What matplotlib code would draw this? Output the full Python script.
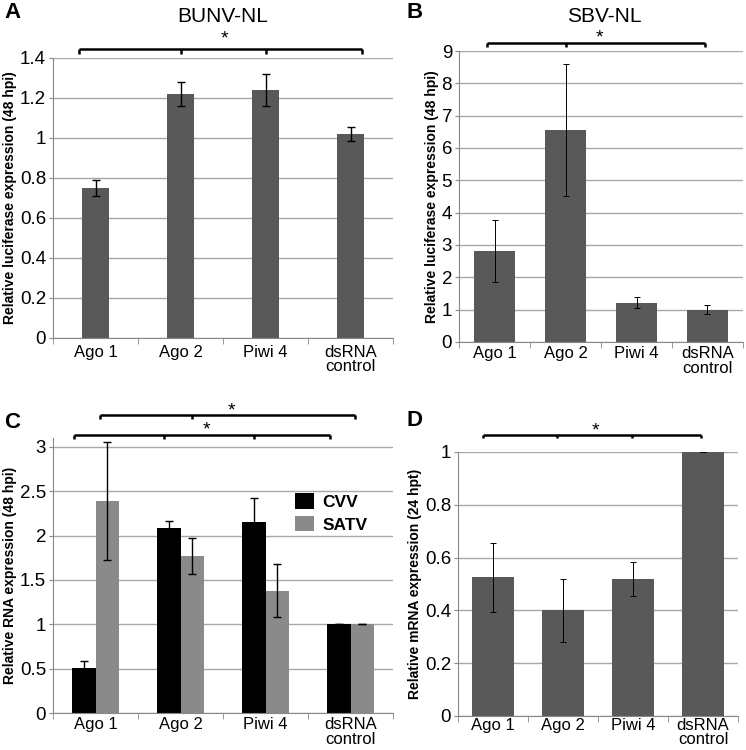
import numpy as np
import matplotlib
matplotlib.use("Agg")
import matplotlib.pyplot as plt

plt.rcParams['font.family'] = ['Liberation Sans', 'DejaVu Sans']

categories = ['Ago 1', 'Ago 2', 'Piwi 4', 'dsRNA\ncontrol']

# A: BUNV-NL
bunv = [0.75, 1.22, 1.24, 1.02]
bunv_err = [0.04, 0.06, 0.08, 0.035]
# B: SBV-NL
sbv = [2.82, 6.55, 1.22, 1.0]
sbv_err = [0.95, 2.05, 0.18, 0.13]
# C: CVV / SATV RNA
cvv = [0.51, 2.09, 2.15, 1.0]
cvv_err = [0.08, 0.07, 0.27, 0.0]
satv = [2.39, 1.77, 1.38, 1.0]
satv_err = [0.66, 0.2, 0.3, 0.0]
# D: mRNA
mrna = [0.525, 0.40, 0.52, 1.0]
mrna_err = [0.13, 0.118, 0.065, 0.0]

W, H = 746, 750
fig = plt.figure(figsize=(W / 100, H / 100), dpi=100)


def px_axes(l, r, b, t):
    return fig.add_axes([l / W, 1 - b / H, (r - l) / W, (b - t) / H])


def style(ax, ylim, yticks, ytlabels, ylabel, xpad):
    x = np.arange(len(categories))
    ax.set_xlim(-0.5, 3.5)
    ax.set_ylim(*ylim)
    ax.set_yticks(yticks)
    ax.set_yticklabels(ytlabels, fontsize=13.5)
    ax.set_xticks(x)
    ax.set_xticklabels(categories, fontsize=12, linespacing=0.95)
    ax.set_xticks(np.arange(-0.5, 4, 1), minor=True)
    ax.tick_params(axis='x', which='major', length=0, pad=xpad)
    ax.tick_params(axis='x', which='minor', length=4, color='#888888')
    ax.tick_params(axis='y', length=3, color='#888888', pad=2)
    ax.grid(axis='y', color='#a8a8a8', lw=1)
    ax.set_axisbelow(True)
    for s in ['top', 'right']:
        ax.spines[s].set_visible(False)
    for s in ['left', 'bottom']:
        ax.spines[s].set_color('#888888')
    ax.set_ylabel(ylabel, fontsize=10, fontweight='bold', labelpad=2)


def bracket(ax, x0, x1, mids, y, h, star_y):
    kw = dict(color='black', lw=1.8, clip_on=False, solid_capstyle='butt')
    ax.plot([x0, x1], [y, y], **kw)
    for xx in [x0, x1] + mids:
        ax.plot([xx, xx], [y, y - h], **kw)
    ax.text((x0 + x1) / 2 + 0.05, star_y, '*', ha='center', va='center', fontsize=14)


x = np.arange(len(categories))
dark = '#595959'

# Panel A
axA = px_axes(53, 393, 338, 58)
axA.bar(x, bunv, 0.31, color=dark, yerr=bunv_err, capsize=3,
        error_kw=dict(elinewidth=1, capthick=1))
style(axA, (0, 1.4), np.arange(0, 1.41, 0.2),
      ['0', '0.2', '0.4', '0.6', '0.8', '1', '1.2', '1.4'],
      'Relative luciferase expression (48 hpi)', 5)
bracket(axA, -0.19, 3.13, [1.0, 2.0], 1.445, 0.025, 1.495)
axA.text(1.5, 1.605, 'BUNV-NL', ha='center', va='center', fontsize=15, clip_on=False)

# Panel B
axB = px_axes(459, 743, 342, 51)
axB.bar(x, sbv, 0.59, color=dark, yerr=sbv_err, capsize=2,
        error_kw=dict(elinewidth=0.7, capthick=0.7))
style(axB, (0, 9), np.arange(0, 10, 1), [str(v) for v in range(10)],
      'Relative luciferase expression (48 hpi)', 3)
bracket(axB, -0.1, 2.96, [1.0], 9.25, 0.12, 9.41)
axB.text(1.55, 10.07, 'SBV-NL', ha='center', va='center', fontsize=15, clip_on=False)

# Panel C
axC = px_axes(53, 393, 713, 438)
bw = 0.28
axC.bar(x - bw / 2, cvv, bw, color='black', label='CVV', yerr=cvv_err, capsize=3,
        error_kw=dict(elinewidth=1, capthick=1))
axC.bar(x + bw / 2, satv, bw, color='#8a8a8a', label='SATV', yerr=satv_err, capsize=3,
        error_kw=dict(elinewidth=1, capthick=1))
style(axC, (0, 3.1), np.arange(0, 3.01, 0.5),
      ['0', '0.5', '1', '1.5', '2', '2.5', '3'],
      'Relative RNA expression (48 hpi)', 3)
bracket(axC, -0.25, 2.76, [0.8, 1.86], 3.135, 0.045, 3.19)
bracket(axC, 0.05, 3.05, [1.13], 3.36, 0.045, 3.40)
axC.legend(loc='upper left', bbox_to_anchor=(0.69, 0.825), frameon=False,
           prop=dict(weight='bold', size=12.5), handlelength=1.1, handleheight=1.0,
           handletextpad=0.5, labelspacing=0.35, borderaxespad=0)

# Panel D
axD = px_axes(458, 738, 716, 452)
axD.bar(x, mrna, 0.59, color=dark, yerr=mrna_err, capsize=2,
        error_kw=dict(elinewidth=0.7, capthick=0.7))
style(axD, (0, 1.0), np.arange(0, 1.01, 0.2),
      ['0', '0.2', '0.4', '0.6', '0.8', '1'],
      'Relative mRNA expression (24 hpt)', 1.5)
bracket(axD, -0.14, 2.97, [0.91, 1.99], 1.064, 0.012, 1.08)

# panel letters
for lbl, (px, py) in zip('ABCD', [(4, 13), (406, 13), (4, 422), (406, 420)]):
    fig.text(px / W, 1 - py / H, lbl, fontsize=16, fontweight='bold', va='center')

fig.savefig('out.png', dpi=100)
